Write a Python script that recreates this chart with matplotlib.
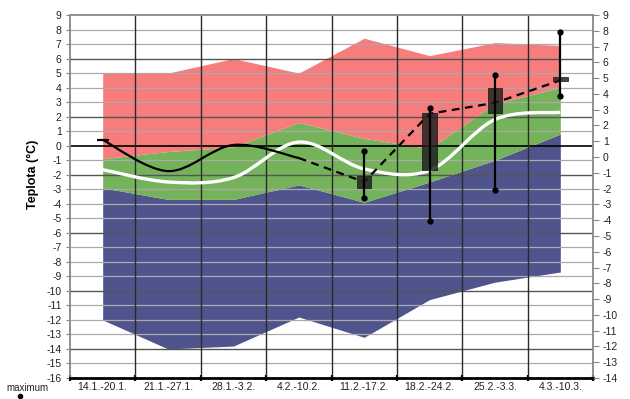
import matplotlib
matplotlib.use('Agg')
import matplotlib.pyplot as plt
from matplotlib.path import Path
from matplotlib.patches import PathPatch, Rectangle
from matplotlib.lines import Line2D

plt.rcParams['font.family'] = ['Liberation Sans', 'DejaVu Sans']
plt.rcParams['axes.unicode_minus'] = False

weeks = ['14.1.-20.1.', '21.1.-27.1.', '28.1.-3.2.', '4.2.-10.2.',
         '11.2.-17.2.', '18.2.-24.2.', '25.2.-3.3.', '4.3.-10.3.']

# pasma (levy osa, °C)
blue_low = [-12.0, -14.0, -13.8, -11.8, -13.2, -10.6, -9.4, -8.7]
blue_high = [-2.9, -3.7, -3.7, -2.7, -3.9, -2.5, -1.0, 0.8]
green_high = [-0.9, -0.4, -0.1, 1.6, 0.5, -0.2, 2.9, 4.0]
red_high = [5.0, 5.0, 6.0, 5.0, 7.4, 6.2, 7.1, 6.9]

normal = [-1.65, -2.5, -2.2, 0.25, -1.6, -1.7, 1.8, 2.3]

solid_idx = [0, 1, 2, 3]
solid_vals = [0.4, -1.75, 0.05, -0.85]
dash_idx = [3, 4, 5, 6, 7]
dash_vals = [-0.85, -2.5, 2.2, 2.95, 4.5]

cand_idx = [4, 5, 6, 7]
cand_high = [-0.4, 2.6, 4.9, 7.85]
cand_low = [-3.6, -5.2, -3.05, 3.4]
box_top = [-2.1, 2.25, 3.95, 4.75]
box_bottom = [-2.9, -1.65, 2.25, 4.45]

RED = '#f77c7c'
GREEN = '#74b35a'
BLUE = '#50548d'


def smooth_path(xs, ys):
    # Catmull-Rom -> Bezier, podobne jako vyhlazena cara v Excelu
    pts = list(zip(xs, ys))
    verts = [pts[0]]
    codes = [Path.MOVETO]
    n = len(pts)
    for i in range(n - 1):
        p0 = pts[i - 1] if i > 0 else pts[i]
        p1 = pts[i]
        p2 = pts[i + 1]
        p3 = pts[i + 2] if i + 2 < n else pts[i + 1]
        c1 = (p1[0] + (p2[0] - p0[0]) / 6, p1[1] + (p2[1] - p0[1]) / 6)
        c2 = (p2[0] - (p3[0] - p1[0]) / 6, p2[1] - (p3[1] - p1[1]) / 6)
        verts += [c1, c2, p2]
        codes += [Path.CURVE4] * 3
    return Path(verts, codes)


fig = plt.figure(figsize=(6.3, 3.99), dpi=100)
ax = fig.add_axes([70 / 630, 1 - 378 / 399, 523 / 630, 363 / 399])

x = list(range(len(weeks)))
ax.fill_between(x, blue_low, blue_high, color=BLUE, lw=0, zorder=1)
ax.fill_between(x, blue_high, green_high, color=GREEN, lw=0, zorder=1)
ax.fill_between(x, green_high, red_high, color=RED, lw=0, zorder=1)

# mrizka
dark = {6, 2, -2, -6, -10, -14}
for v in range(-15, 9):
    if v == 0:
        ax.axhline(v, color='black', lw=1.2, zorder=2)
    elif v in dark:
        ax.axhline(v, color='#555555', lw=1.0, zorder=2)
    else:
        ax.axhline(v, color='#aaaaaa', lw=0.9, zorder=2)
for b in range(1, len(weeks)):
    ax.axvline(b - 0.5, color='#2a2a2a', lw=1.0, zorder=2)

ax.add_patch(PathPatch(smooth_path(x, normal), fill=False, ec='white',
                       lw=2.4, zorder=3, capstyle='butt'))
ax.add_patch(PathPatch(smooth_path(solid_idx, solid_vals), fill=False,
                       ec='black', lw=1.6, zorder=3))
ax.plot(solid_idx[:1], solid_vals[:1], marker='_', ms=9, mew=1.6,
        color='black', zorder=3)
ax.plot(dash_idx, dash_vals, color='black', lw=1.6, ls=(0, (3.5, 2.5)),
        zorder=3)

bw = 0.22
for i, hi, lo, bt, bb in zip(cand_idx, cand_high, cand_low, box_top, box_bottom):
    ax.plot([i, i], [lo, hi], color='black', lw=1.6, marker='o', ms=3.5,
            zorder=5)
    ax.add_patch(Rectangle((i - bw / 2, bb), bw, bt - bb, fc='#1e1e1e',
                           ec='#111111', lw=0.6, alpha=0.82, zorder=4))

ax.set_xlim(-0.5, len(weeks) - 0.5)
ax.set_ylim(-16, 9)
ax.set_yticks(range(-16, 10))
ax.tick_params(axis='y', labelsize=7.5, length=3, color='#888888',
               pad=3, labelcolor='#222222')

ax.set_xticks([b - 0.5 for b in range(len(weeks) + 1)])
ax.set_xticklabels([])
ax.set_xticks(x, minor=True)
ax.set_xticklabels(weeks, minor=True, fontsize=7.5, color='#222222')
ax.tick_params(axis='x', which='major', direction='inout', length=5,
               width=1.6, color='black')
ax.tick_params(axis='x', which='minor', length=0, pad=3)

for side in ['left', 'top', 'right']:
    ax.spines[side].set_color('#888888')
    ax.spines[side].set_linewidth(1.3)
ax.spines['bottom'].set_color('black')
ax.spines['bottom'].set_linewidth(2.0)
ax.spines['bottom'].set_zorder(6)

ax2 = ax.twinx()
ax2.set_ylim(-14, 9)
ax2.set_yticks(range(-14, 10))
ax2.tick_params(axis='y', labelsize=7.5, length=4, color='#888888',
                pad=3, labelcolor='#222222')
for side in ['left', 'top', 'right', 'bottom']:
    ax2.spines[side].set_visible(False)

fig.text(33 / 630, 1 - 174 / 399, 'Teplota (°C)', rotation=90,
         fontsize=9, fontweight='bold', ha='center', va='center')

fig.text(6 / 630, 1 - 388 / 399, 'maximum', fontsize=7, ha='left',
         va='center', color='#222222')
fig.add_artist(Line2D([20 / 630, 20 / 630], [0, 4 / 399], color='black',
                      lw=1.0, transform=fig.transFigure))
fig.add_artist(Line2D([20 / 630], [3 / 399], marker='o', ms=3, color='black',
                      transform=fig.transFigure))

fig.savefig('out.png', dpi=100)
